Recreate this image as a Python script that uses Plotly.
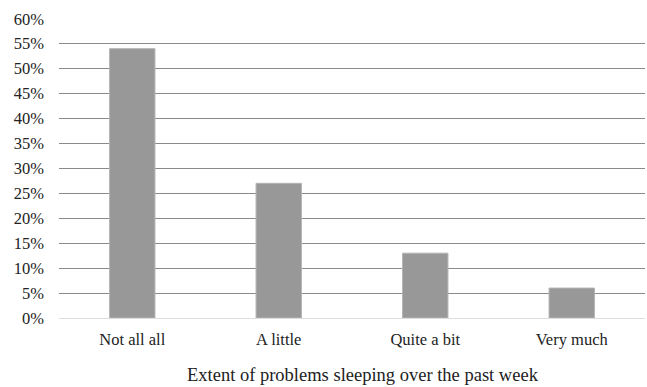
import plotly.graph_objects as go

categories = ["Not all all", "A little", "Quite a bit", "Very much"]
values = [0.54, 0.27, 0.13, 0.06]
y_ticks = [i * 0.05 for i in range(13)]
y_tick_labels = [f"{i*5}%" for i in range(13)]
x_title = "Extent of problems sleeping over the past week"

fig = go.Figure(go.Bar(
    x=categories, y=values,
    marker=dict(color="#989898", line=dict(color="#b4b4b4", width=1)),
))

font = dict(family="Liberation Serif, Times New Roman, serif", size=16.5, color="#222222")
title_font = dict(family="Liberation Serif, Times New Roman, serif", size=18.5, color="#222222")

fig.update_layout(
    width=647, height=387,
    margin=dict(l=59, r=2, t=18, b=69),
    paper_bgcolor="white", plot_bgcolor="white",
    bargap=0.69,
    font=font,
    showlegend=False,
    xaxis=dict(
        automargin=False,
        showgrid=False, showline=False, ticks="", ticklabelstandoff=9,
        tickfont=font,
    ),
    yaxis=dict(
        automargin=False,
        range=[0, 0.6015], tickvals=y_ticks, ticktext=y_tick_labels,
        showgrid=True, gridcolor="#8a8a8a", gridwidth=1,
        zeroline=True, zerolinecolor="#dddddd", zerolinewidth=1,
        showline=False, ticks="", ticklabelstandoff=14,
        tickfont=font,
    ),
    annotations=[dict(
        text=x_title, xref="paper", yref="paper", x=0.519, y=-0.19,
        xanchor="center", yanchor="middle", showarrow=False, font=title_font,
    )],
)

fig.write_html(
    "out.html",
    config={"displayModeBar": False},
    post_script="document.body.style.margin='0';document.body.style.overflow='hidden';",
)
